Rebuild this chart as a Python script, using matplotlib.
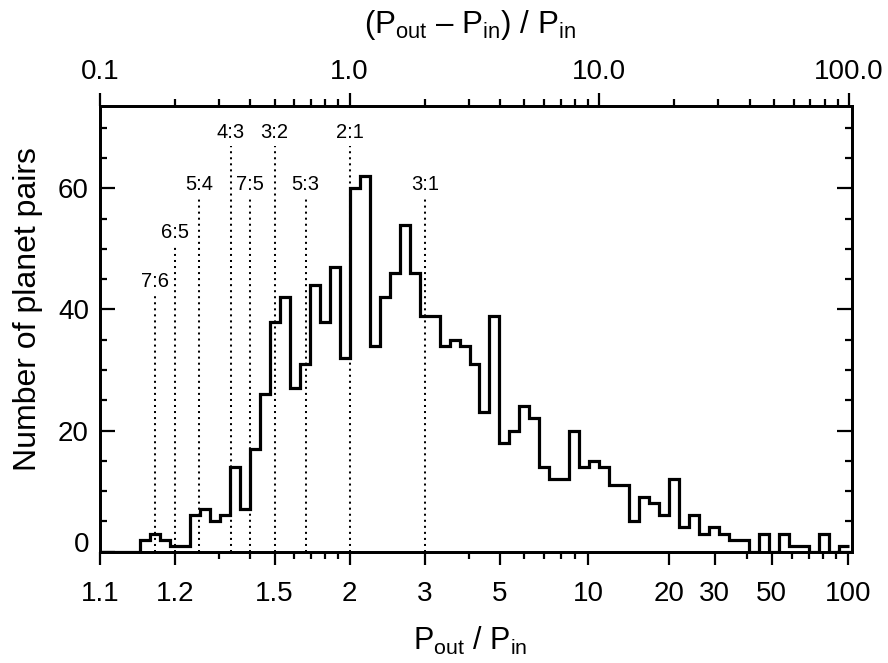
import numpy as np
import matplotlib
matplotlib.use('Agg')
import matplotlib.pyplot as plt
from matplotlib.ticker import FixedLocator, FixedFormatter, NullFormatter

plt.rcParams['font.family'] = ['Liberation Sans', 'DejaVu Sans']
plt.rcParams['mathtext.fontset'] = 'custom'
plt.rcParams['mathtext.rm'] = 'Liberation Sans'
plt.rcParams['mathtext.it'] = 'Liberation Sans:italic'
plt.rcParams['mathtext.bf'] = 'Liberation Sans:bold'

# ---- data ----
# histogram in log10((Pout-Pin)/Pin), bins of 0.04 dex starting at 0.1
bin_log_start = -1.0
bin_log_width = 0.04
counts = [0, 0, 0, 0, 2, 3, 2, 1, 1, 6,
          7, 5, 6, 14, 7, 17, 26, 38, 42, 27,
          31, 44, 38, 47, 32, 60, 62, 34, 42, 46,
          54, 46, 39, 39, 34, 35, 34, 31, 23, 39,
          18, 20, 24, 22, 14, 12, 12, 20, 14, 15,
          14, 11, 11, 5, 9, 8, 6, 12, 4, 6,
          3, 4, 3, 2, 2, 0, 3, 0, 3, 1,
          1, 0, 3, 0, 1]

res_labels = ['7:6', '6:5', '5:4', '4:3', '7:5', '3:2', '5:3', '2:1', '3:1']
res_ratios = [7/6, 6/5, 5/4, 4/3, 7/5, 3/2, 5/3, 2.0, 3.0]
res_tops = [42.4, 50.4, 58.4, 67.0, 58.4, 67.0, 58.4, 67.0, 58.4]

bottom_major_P = [1.1, 1.2, 1.5, 2, 3, 5, 10, 20, 30, 50, 100]
bottom_major_labels = ['1.1', '1.2', '1.5', '2', '3', '5', '10', '20', '30', '50', '100']
bottom_minor_P = [1.3, 1.4, 1.6, 1.7, 1.8, 1.9, 4, 6, 7, 8, 9, 40, 60, 70, 80, 90]

top_major = [0.1, 1.0, 10.0, 100.0]
top_major_labels = ['0.1', '1.0', '10.0', '100.0']
top_minor = [m * d for d in (0.1, 1.0, 10.0) for m in range(2, 10)]

y_major = [0, 20, 40, 60]
y_minor = [5, 10, 15, 25, 30, 35, 45, 50, 55, 65, 70]

# ---- figure ----
W, H = 888, 663
fig = plt.figure(figsize=(W / 100, H / 100), dpi=100)
ax = fig.add_axes([100 / W, 1 - 551.7 / H, 752 / W, (551.7 - 106) / H])

edges = 10 ** (bin_log_start + bin_log_width * np.arange(len(counts) + 1))
ax.stairs(counts, edges, color='black', lw=2.3, baseline=None, zorder=3)

for lab, r, top in zip(res_labels, res_ratios, res_tops):
    x = r - 1
    ax.plot([x, x], [0, top], color='black', lw=1.45, linestyle=(0, (1, 2)), zorder=2)
    ax.annotate(lab, xy=(x, top), xytext=(0, 6), textcoords='offset points',
                ha='center', va='baseline', fontsize=14.5)

ax.set_xscale('log')
ax.set_xlim(0.1, 102.8)
ax.set_ylim(0, 73.6)

ax.xaxis.set_major_locator(FixedLocator([p - 1 for p in bottom_major_P]))
ax.xaxis.set_major_formatter(FixedFormatter(bottom_major_labels))
ax.xaxis.set_minor_locator(FixedLocator([p - 1 for p in bottom_minor_P]))
ax.xaxis.set_minor_formatter(NullFormatter())

ax.yaxis.set_major_locator(FixedLocator(y_major))
ax.yaxis.set_major_formatter(FixedFormatter([''] + [str(v) for v in y_major[1:]]))
ax.yaxis.set_minor_locator(FixedLocator(y_minor))

ax.tick_params(axis='x', which='major', direction='out', length=9.6, width=1.6,
               labelsize=20, pad=11.5)
ax.tick_params(axis='x', which='minor', direction='out', length=5, width=1.6)
ax.tick_params(axis='y', which='major', direction='in', length=10.8, width=1.6,
               labelsize=20, pad=8, right=True, left=True)
ax.tick_params(axis='y', which='minor', direction='in', length=5, width=1.6,
               right=True, left=True)
ax.annotate('0', xy=(0, 0), xycoords=('axes fraction', 'data'), xytext=(-8, 0),
            textcoords='offset points', ha='right', va='baseline', fontsize=20)

for s in ax.spines.values():
    s.set_linewidth(2.0)

ax2 = ax.twiny()
ax2.set_xscale('log')
ax2.set_xlim(ax.get_xlim())
ax2.xaxis.set_major_locator(FixedLocator(top_major))
ax2.xaxis.set_major_formatter(FixedFormatter(top_major_labels))
ax2.xaxis.set_minor_locator(FixedLocator(top_minor))
ax2.xaxis.set_minor_formatter(NullFormatter())
ax2.tick_params(axis='x', which='major', direction='out', length=9.6, width=1.6,
                labelsize=20, pad=5.5)
ax2.tick_params(axis='x', which='minor', direction='out', length=5, width=1.6)
for s in ax2.spines.values():
    s.set_linewidth(2.0)

fig.text(28 / W, 1 - 309 / H, 'Number of planet pairs', rotation=90,
         ha='center', va='center', fontsize=23)
fig.text(470 / W, 1 - 650 / H, r'$\mathrm{P}_{\mathrm{out}}\ /\ \mathrm{P}_{\mathrm{in}}$',
         ha='center', va='baseline', fontsize=22)
fig.text(470 / W, 1 - 33 / H,
         r'$(\mathrm{P}_{\mathrm{out}}\ \mathrm{–}\ \mathrm{P}_{\mathrm{in}})\ /\ \mathrm{P}_{\mathrm{in}}$',
         ha='center', va='baseline', fontsize=22.5)

fig.savefig('out.png', dpi=100)
